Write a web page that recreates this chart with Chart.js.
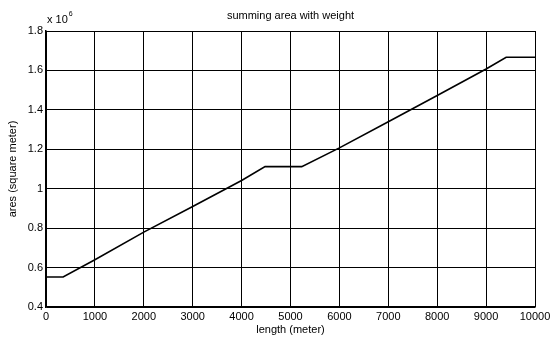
<!DOCTYPE html>
<html>
<head>
<meta charset="utf-8">
<script src="https://cdn.jsdelivr.net/npm/chart.js@4/dist/chart.umd.min.js"></script>
<style>
  html, body { margin: 0; padding: 0; background: #fff; }
  #wrap { width: 551px; height: 340px; position: relative; }
</style>
</head>
<body>
<div id="wrap"><canvas id="c" width="551" height="340"></canvas></div>
<script>
// Data (area in units of 10^6 square meters)
const lengthMeters = [0, 350, 1000, 2000, 3000, 4000, 4480, 5230, 6000, 7000, 8000, 9000, 9410, 10000];
const areaMillions = [0.552, 0.552, 0.640, 0.780, 0.910, 1.042, 1.112, 1.112, 1.207, 1.340, 1.473, 1.607, 1.667, 1.667];
const xTicks = [0, 1000, 2000, 3000, 4000, 5000, 6000, 7000, 8000, 9000, 10000];
const yTicks = [0.4, 0.6, 0.8, 1, 1.2, 1.4, 1.6, 1.8];
const titleText = 'summing area with weight';
const xLabel = 'length (meter)';
const yLabel = 'ares (square meter)';
const exponentBase = 'x 10';
const exponentPower = '6';

const FONT = '"Liberation Sans", Arial, Helvetica, sans-serif';

const points = lengthMeters.map((x, i) => ({ x: x, y: areaMillions[i] }));

const textPlugin = {
  id: 'matlabText',
  afterDraw(chart) {
    const ctx = chart.ctx;
    const a = chart.chartArea;
    ctx.save();
    ctx.fillStyle = '#000';
    ctx.font = '11px ' + FONT;
    ctx.textAlign = 'center';
    ctx.textBaseline = 'middle';
    ctx.fillText(titleText, (a.left + a.right) / 2, 16);
    ctx.textAlign = 'left';
    ctx.textBaseline = 'alphabetic';
    ctx.font = '11px ' + FONT;
    ctx.fillText(exponentBase, a.left + 1, 23);
    const w = ctx.measureText(exponentBase).width;
    ctx.font = '7px ' + FONT;
    ctx.fillText(exponentPower, a.left + 2 + w, 16);
    ctx.restore();
  }
};

const bgPlugin = {
  id: 'bg',
  beforeDraw(chart) {
    const ctx = chart.ctx;
    ctx.save();
    ctx.fillStyle = '#fff';
    ctx.fillRect(0, 0, chart.width, chart.height);
    ctx.restore();
  }
};

new Chart(document.getElementById('c'), {
  type: 'scatter',
  data: {
    datasets: [{
      data: points,
      showLine: true,
      borderColor: '#000',
      borderWidth: 1.6,
      pointRadius: 0,
      pointHoverRadius: 0,
      tension: 0,
      fill: false
    }]
  },
  options: {
    responsive: false,
    animation: false,
    events: [],
    layout: { autoPadding: false, padding: { left: 0, right: 16, top: 31, bottom: 0 } },
    plugins: { legend: { display: false }, title: { display: false }, tooltip: { enabled: false } },
    scales: {
      x: {
        type: 'linear',
        min: 0, max: 10000,
        afterBuildTicks(scale) { scale.ticks = xTicks.map(v => ({ value: v })); },
        afterFit(scale) { scale.height = 33; scale.paddingLeft = 0; scale.paddingRight = 0; },
        ticks: {
          color: '#000', padding: 3, maxRotation: 0, autoSkip: false,
          font: { family: FONT, size: 11 },
          callback: v => String(v)
        },
        grid: { color: '#000', lineWidth: 1, drawTicks: false },
        border: { color: '#000', width: 1.5 },
        title: { display: true, text: xLabel, color: '#000', font: { family: FONT, size: 11 }, padding: { top: 0, bottom: 3 } }
      },
      y: {
        type: 'linear',
        min: 0.4, max: 1.8,
        afterBuildTicks(scale) { scale.ticks = yTicks.map(v => ({ value: v })); },
        afterFit(scale) { scale.width = 46; scale.paddingTop = 0; scale.paddingBottom = 0; },
        ticks: {
          color: '#000', padding: 3, autoSkip: false,
          font: { family: FONT, size: 11 },
          callback: v => String(Math.round(v * 10) / 10)
        },
        grid: { color: '#000', lineWidth: 1, drawTicks: false },
        border: { color: '#000', width: 1.5 },
        title: { display: true, text: yLabel, color: '#000', font: { family: FONT, size: 11 }, padding: { top: 6, bottom: 0 } }
      }
    }
  },
  plugins: [bgPlugin, textPlugin]
});
</script>
</body>
</html>
